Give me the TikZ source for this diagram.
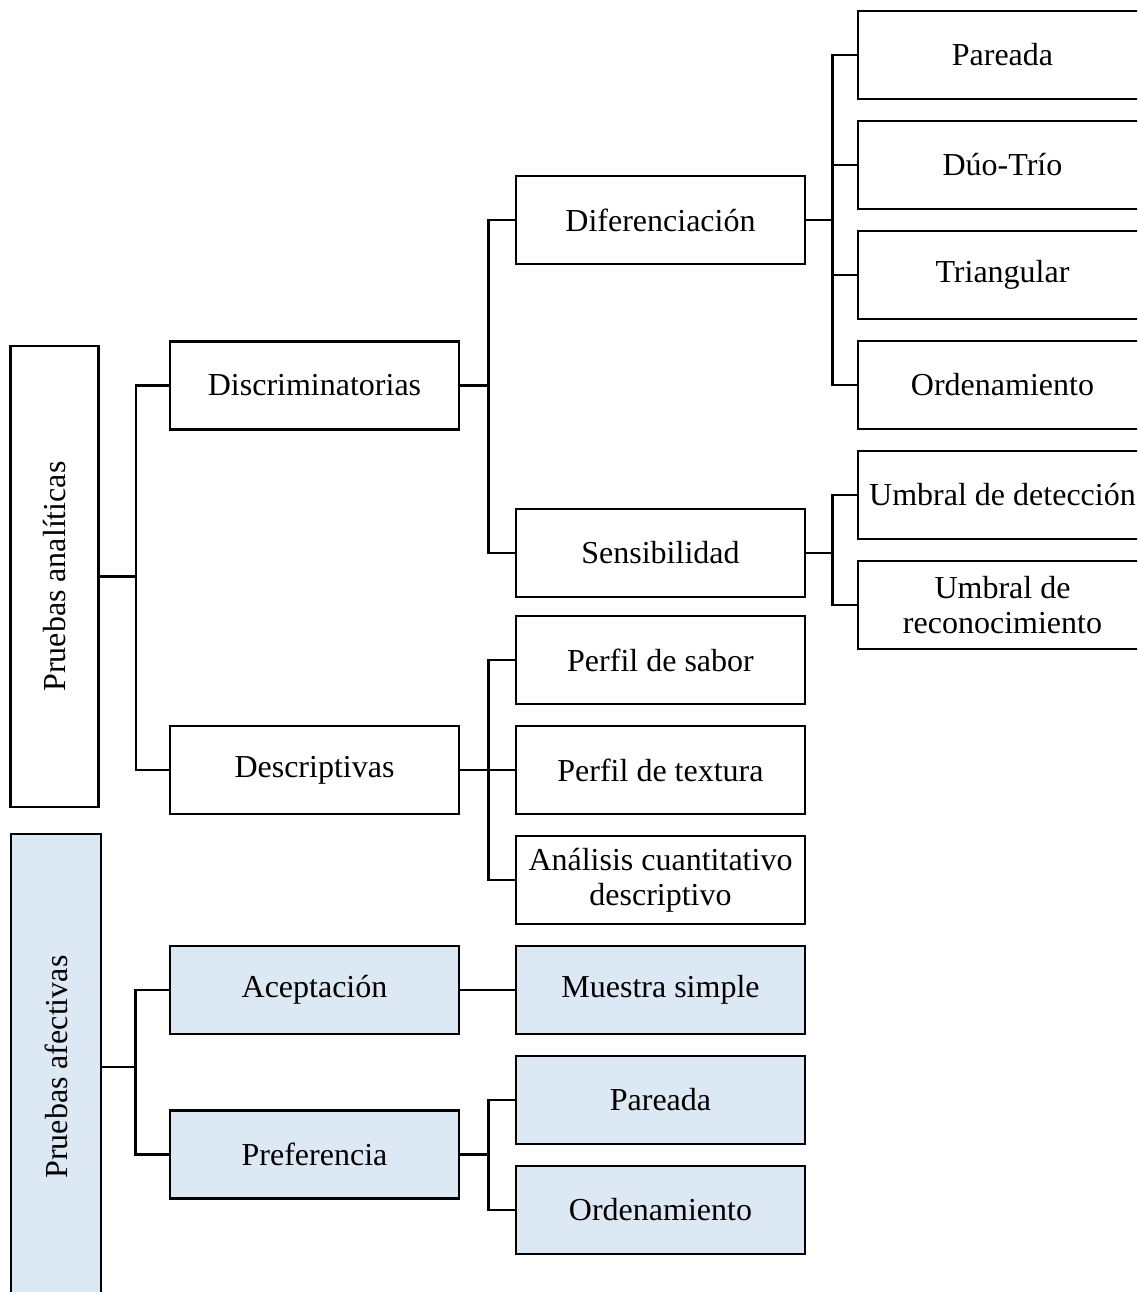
\documentclass[tikz,border=0pt]{standalone}
\usepackage{fontspec}
\setmainfont{Liberation Serif}
\definecolor{afectivo}{RGB}{221,232,245}
\tikzset{
  caja/.style={draw, line width=1.4pt, minimum width=144.5pt, minimum height=44pt, align=center, inner sep=2pt},
  cajaA/.style={caja, fill=afectivo},
  vertical/.style={draw, line width=1.4pt, rotate=90, minimum height=44pt, align=center},
  rama/.style={line width=1.4pt}
}
\begin{document}
\begin{tikzpicture}[x=0.5pt, y=-0.5pt, font=\fontsize{16}{17.5}\selectfont]
        \useasboundingbox (0,0) rectangle (1137,1292);
        \clip (0,0) rectangle (1137,1292);
        % grupos principales
        \node[vertical, minimum width=230.5pt] (anal) at (54.5,576.5) {Pruebas analíticas};
        \node[vertical, fill=afectivo, minimum width=233pt, minimum height=45pt] (afec) at (56,1067) {Pruebas afectivas};
        % segundo nivel
        \node[caja] (disc) at (314.5,385.5) {Discriminatorias};
        \node[caja] (desc) at (314.5,770) {Descriptivas};
        \node[cajaA] (acep) at (314.5,990) {Aceptación};
        \node[cajaA] (pref) at (314.5,1154.5) {Preferencia};
        % tercer nivel
        \node[caja] (dif) at (660.5,220) {Diferenciación};
        \node[caja] (sens) at (660.5,553) {Sensibilidad};
        \node[caja] (sabor) at (660.5,660) {Perfil de sabor};
        \node[caja] (textura) at (660.5,770) {Perfil de textura};
        \node[caja] (acd) at (660.5,880) {Análisis cuantitativo\\descriptivo};
        \node[cajaA] (muestra) at (660.5,990) {Muestra simple};
        \node[cajaA] (parB) at (660.5,1100) {Pareada};
        \node[cajaA] (ordB) at (660.5,1210) {Ordenamiento};
        % cuarto nivel
        \node[caja] (parA) at (1002.5,55) {Pareada};
        \node[caja] (duo) at (1002.5,165) {Dúo-Trío};
        \node[caja] (tri) at (1002.5,275) {Triangular};
        \node[caja] (ordA) at (1002.5,385) {Ordenamiento};
        \node[caja] (udet) at (1002.5,495) {Umbral de detección};
        \node[caja] (urec) at (1002.5,605) {Umbral de\\reconocimiento};
        % conectores
        \draw[rama] (anal.south) -- ++(36,0) coordinate (j1) |- (disc.west);
        \draw[rama] (j1) |- (desc.west);
        \draw[rama] (afec.south) -- ++(33,0) coordinate (j2) |- (acep.west);
        \draw[rama] (j2) |- (pref.west);
        \draw[rama] (disc.east) -- ++(28,0) coordinate (j3) |- (dif.west);
        \draw[rama] (j3) |- (sens.west);
        \draw[rama] (desc.east) -- ++(28,0) coordinate (j4) |- (sabor.west);
        \draw[rama] (j4) |- (textura.west);
        \draw[rama] (j4) |- (acd.west);
        \draw[rama] (acep.east) -- (muestra.west);
        \draw[rama] (pref.east) -- ++(28,0) coordinate (j5) |- (parB.west);
        \draw[rama] (j5) |- (ordB.west);
        \draw[rama] (dif.east) -- ++(26,0) coordinate (j6) |- (parA.west);
        \foreach \n in {duo,tri,ordA} {
          \draw[rama] (j6) |- (\n.west);
        }
        \draw[rama] (sens.east) -- ++(26,0) coordinate (j7) |- (udet.west);
        \draw[rama] (j7) |- (urec.west);
\end{tikzpicture}
\end{document}
